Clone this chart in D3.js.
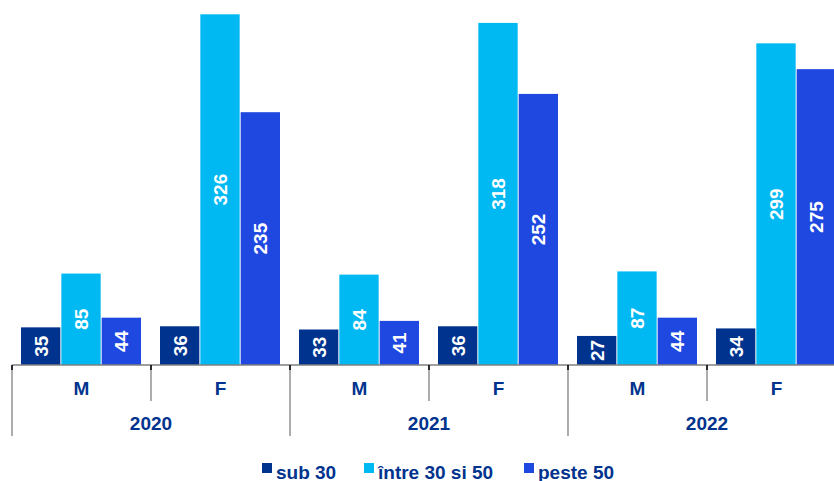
<!DOCTYPE html>
<html>
<head>
<meta charset="utf-8">
<script src="https://cdn.jsdelivr.net/npm/d3@7"></script>
<style>
  body { margin: 0; background: #fff; overflow: hidden; }
  svg { display: block; }
</style>
</head>
<body>
<div id="chart"></div>
<script>
let width = 834;
let height = 481;

// data
let years = ["2020", "2021", "2022"];
let genders = ["M", "F"];
let seriesNames = ["sub 30", "între 30 si 50", "peste 50"];
let sub30 = [35, 36, 33, 36, 27, 34];
let intre30si50 = [85, 326, 84, 318, 87, 299];
let peste50 = [44, 235, 41, 252, 44, 275];

let colors = ["#00338e", "#00b9f3", "#1f48e1"];
let textColor = "#00338e";

let categories = [];
years.forEach(y => genders.forEach(g => categories.push(y + "|" + g)));
let values = [sub30, intre30si50, peste50];
let data = [];
categories.forEach((c, i) => {
    seriesNames.forEach((s, j) => data.push({cat: c, series: s, value: values[j][i], color: colors[j]}));
});

let baseY = 365;
// the plot runs past the right edge of the picture (last bar is clipped)
let x = d3.scaleBand()
    .domain(categories)
    .range([12, 846])
    .padding(0);
let xs = d3.scaleBand()
    .domain(seriesNames)
    .range([9, x.bandwidth() - 9])
    .padding(0);
let y = d3.scaleLinear()
    .domain([0, 330])
    .range([baseY, 10]);

let svg = d3.select("#chart")
    .append("svg")
    .attr("width", width)
    .attr("height", height)
    .attr("viewBox", [0, 0, width, height]);

// bars
let bars = svg.append("g").attr("class", "bars");
bars.selectAll("rect")
    .data(data)
    .join("rect")
    .attr("x", d => x(d.cat) + xs(d.series))
    .attr("y", d => y(d.value))
    .attr("width", xs.bandwidth() - 1)
    .attr("height", d => y(0) - y(d.value))
    .attr("fill", d => d.color);

// value labels, rotated, centred in bar
bars.selectAll("text")
    .data(data)
    .join("text")
    .attr("transform", d => {
        let cx = x(d.cat) + xs(d.series) + (xs.bandwidth() - 1) / 2;
        let cy = (y(d.value) + y(0)) / 2;
        return `translate(${cx},${cy}) rotate(-90)`;
    })
    .attr("text-anchor", "middle")
    .attr("dy", "0.36em")
    .attr("fill", "#fff")
    .attr("font-family", "Liberation Sans, Arial, sans-serif")
    .attr("font-weight", "bold")
    .attr("font-size", 19)
    .text(d => d.value);

// axis line
let axis = svg.append("g").attr("class", "x-axis");
axis.append("line")
    .attr("x1", x.range()[0]).attr("x2", x.range()[1])
    .attr("y1", baseY).attr("y2", baseY)
    .attr("stroke", "#7f7f7f")
    .attr("stroke-width", 1.5);

// category boundaries
let bounds = categories.map(c => x(c)).concat([x.range()[1]]);
bounds.forEach((b, i) => {
    let isYear = i % 2 === 0;
    axis.append("line")
        .attr("x1", b).attr("x2", b)
        .attr("y1", baseY).attr("y2", isYear ? 436 : 401)
        .attr("stroke", "#808080")
        .attr("stroke-width", 1.3);
    axis.append("line")
        .attr("x1", b).attr("x2", b)
        .attr("y1", baseY).attr("y2", baseY + 5)
        .attr("stroke", "#000")
        .attr("stroke-width", 1.5);
});

// gender labels
axis.selectAll(".g-label")
    .data(categories)
    .join("text")
    .attr("class", "g-label")
    .attr("x", d => x(d) + x.bandwidth() / 2)
    .attr("y", 395)
    .attr("text-anchor", "middle")
    .attr("fill", textColor)
    .attr("font-family", "Liberation Sans, Arial, sans-serif")
    .attr("font-weight", "bold")
    .attr("font-size", 19)
    .text(d => d.split("|")[1]);

// year labels
axis.selectAll(".y-label")
    .data(years)
    .join("text")
    .attr("class", "y-label")
    .attr("x", d => x(d + "|M") + x.bandwidth())
    .attr("y", 430)
    .attr("text-anchor", "middle")
    .attr("fill", textColor)
    .attr("font-family", "Liberation Sans, Arial, sans-serif")
    .attr("font-weight", "bold")
    .attr("font-size", 19)
    .text(d => d);

// legend
let legendX = [262, 364, 524];
let legend = svg.append("g").attr("class", "legend");
seriesNames.forEach((s, i) => {
    legend.append("rect")
        .attr("x", legendX[i]).attr("y", 463)
        .attr("width", 10).attr("height", 10)
        .attr("fill", colors[i]);
    legend.append("text")
        .attr("x", legendX[i] + 14)
        .attr("y", 479)
        .attr("fill", textColor)
        .attr("font-family", "Liberation Sans, Arial, sans-serif")
        .attr("font-weight", "bold")
        .attr("font-size", 19)
        .text(s);
});
</script>
</body>
</html>
